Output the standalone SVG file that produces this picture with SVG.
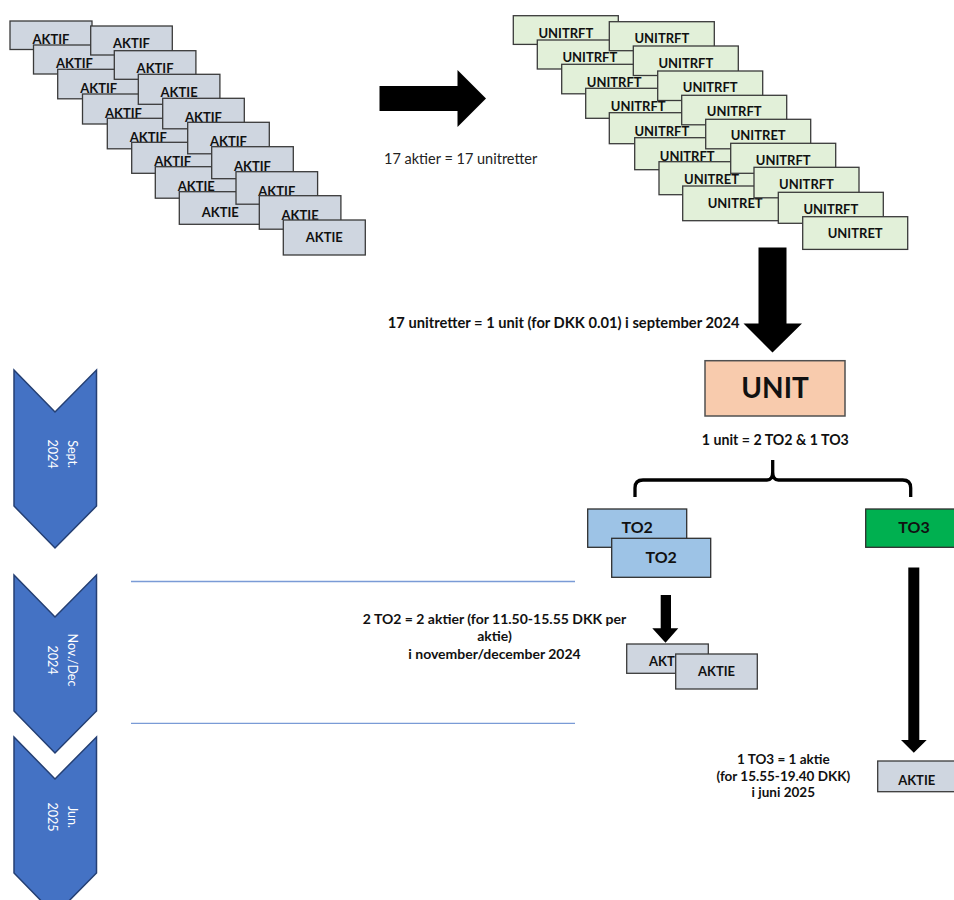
<svg xmlns="http://www.w3.org/2000/svg" width="954" height="900" viewBox="0 0 954 900">
<style>
.ak rect{fill:#CFD6E0;stroke:#3A3A3A;stroke-width:1.3}
.un rect{fill:#E2F0D9;stroke:#3A3A3A;stroke-width:1.3}
.bt{font-family:Lato,"Liberation Sans",sans-serif;font-weight:bold;font-size:13px;fill:#111;text-anchor:middle}
.lbl{font-family:Lato,"Liberation Sans",sans-serif;font-weight:bold;font-size:14px;fill:#111}
.reg{font-family:Lato,"Liberation Sans",sans-serif;font-size:14.5px;fill:#222}
.chev polygon{fill:#4472C4;stroke:#243F73;stroke-width:1.5}
.ct{font-family:Lato,"Liberation Sans",sans-serif;font-size:12.5px;fill:#fff;text-anchor:middle}
.arr{fill:#000}
.tl{stroke:#7A9BD6;stroke-width:1.3}
</style>

<!-- AKTIE stack -->
<g id="aktier" class="ak">
<g><rect x="10" y="21" width="82" height="28.5"/><text class="bt" x="51" y="43.5">AKTIF</text></g>
<g><rect x="33.5" y="45" width="82" height="29"/><text class="bt" x="74.5" y="68">AKTIF</text></g>
<g><rect x="57.7" y="69.3" width="82" height="29.5"/><text class="bt" x="98.7" y="92.5">AKTIF</text></g>
<g><rect x="82.5" y="94" width="82" height="30"/><text class="bt" x="123.5" y="117.5">AKTIF</text></g>
<g><rect x="107.3" y="118.3" width="82" height="30.5"/><text class="bt" x="148.3" y="142">AKTIF</text></g>
<g><rect x="131.7" y="142.3" width="82" height="31"/><text class="bt" x="172.7" y="166.3">AKTIF</text></g>
<g><rect x="155.3" y="166.7" width="82" height="31.5"/><text class="bt" x="196.3" y="191">AKTIE</text></g>
<g><rect x="179.3" y="191.7" width="82" height="32.6"/><text class="bt" x="220.3" y="216.5">AKTIE</text></g>
<g><rect x="90.7" y="26" width="81.6" height="29"/><text class="bt" x="131.5" y="48">AKTIF</text></g>
<g><rect x="114.3" y="50.7" width="81.6" height="28.6"/><text class="bt" x="155.1" y="72.8">AKTIF</text></g>
<g><rect x="138.3" y="74.3" width="81.6" height="30"/><text class="bt" x="179.1" y="97">AKTIE</text></g>
<g><rect x="162.7" y="98.3" width="81.6" height="30.5"/><text class="bt" x="203.5" y="121.5">AKTIF</text></g>
<g><rect x="187.7" y="122.3" width="81.6" height="31.5"/><text class="bt" x="228.5" y="146">AKTIF</text></g>
<g><rect x="211.7" y="146.7" width="81.6" height="32"/><text class="bt" x="252.5" y="170.5">AKTIF</text></g>
<g><rect x="236" y="171.7" width="81.6" height="32.5"/><text class="bt" x="276.8" y="195.5">AKTIF</text></g>
<g><rect x="259.3" y="195.7" width="81.6" height="33.5"/><text class="bt" x="300.1" y="220">AKTIE</text></g>
<g><rect x="283.3" y="220" width="82" height="35"/><text class="bt" x="324.3" y="242">AKTIE</text></g>
</g>

<!-- UNITRET stack -->
<g id="unitretter" class="un">
<g><rect x="513.3" y="15.7" width="105" height="28.7"/><text class="bt" x="565.8" y="38">UNITRFT</text></g>
<g><rect x="537.3" y="40" width="105" height="29"/><text class="bt" x="589.8" y="62.3">UNITRFT</text></g>
<g><rect x="561.7" y="64.3" width="105" height="29.5"/><text class="bt" x="614.2" y="86.8">UNITRFT</text></g>
<g><rect x="585.7" y="88.3" width="105" height="30"/><text class="bt" x="638.2" y="111">UNITRFT</text></g>
<g><rect x="609.3" y="112.7" width="105" height="31"/><text class="bt" x="661.8" y="135.5">UNITRFT</text></g>
<g><rect x="634.7" y="137.7" width="105" height="32"/><text class="bt" x="687.2" y="160.5">UNITRFT</text></g>
<g><rect x="659" y="161.7" width="105" height="33"/><text class="bt" x="711.5" y="184">UNITRET</text></g>
<g><rect x="682.7" y="186" width="105" height="34.7"/><text class="bt" x="735.2" y="208">UNITRET</text></g>
<g><rect x="609.3" y="21.7" width="105" height="29"/><text class="bt" x="661.8" y="43">UNITRFT</text></g>
<g><rect x="633.3" y="46" width="105" height="29.5"/><text class="bt" x="685.8" y="67.5">UNITRFT</text></g>
<g><rect x="657.7" y="71" width="105" height="29.5"/><text class="bt" x="710.2" y="92">UNITRFT</text></g>
<g><rect x="681.7" y="95.3" width="105" height="29.5"/><text class="bt" x="734.2" y="116">UNITRFT</text></g>
<g><rect x="705.7" y="119.3" width="105" height="29.5"/><text class="bt" x="758.2" y="140">UNITRET</text></g>
<g><rect x="730.7" y="143.3" width="105" height="30"/><text class="bt" x="783.2" y="164.5">UNITRFT</text></g>
<g><rect x="754" y="167.3" width="105" height="30.5"/><text class="bt" x="806.5" y="189">UNITRFT</text></g>
<g><rect x="778.3" y="192.3" width="105" height="31"/><text class="bt" x="830.8" y="213.5">UNITRFT</text></g>
<g><rect x="802.7" y="216.7" width="105" height="32.7"/><text class="bt" x="855.2" y="238">UNITRET</text></g>
</g>

<!-- Unit -->
<g id="unit">
<rect x="705" y="360.7" width="140" height="55.3" fill="#F8CBAD" stroke="#505050" stroke-width="1.5"/>
<text x="775" y="398" font-family="Lato, 'Liberation Sans', sans-serif" font-weight="bold" font-size="28" fill="#111" text-anchor="middle">UNIT</text>
</g>

<!-- TO2 -->
<g id="to2">
<rect x="587.7" y="509" width="99" height="38.3" fill="#9DC3E6" stroke="#2F2F2F" stroke-width="1.3"/>
<text x="637.2" y="533.3" class="bt" style="font-size:16px">TO2</text>
<rect x="611.7" y="538.3" width="99" height="39" fill="#9DC3E6" stroke="#2F2F2F" stroke-width="1.3"/>
<text x="661.2" y="563.3" class="bt" style="font-size:16px">TO2</text>
</g>

<!-- TO3 -->
<g id="to3">
<rect x="865.7" y="509" width="96" height="38.3" fill="#00B050" stroke="#2F2F2F" stroke-width="1.3"/>
<text x="914" y="533.3" class="bt" style="font-size:16px">TO3</text>
</g>

<!-- Aktier from TO2 -->
<g id="aktier-to2" class="ak">
<rect x="626.7" y="644" width="81.6" height="29.3"/>
<text class="bt" x="667.5" y="666">AKTIE</text>
<rect x="675.7" y="654" width="81.6" height="35"/>
<text class="bt" x="716.5" y="676">AKTIE</text>
</g>

<!-- Aktie from TO3 -->
<g id="aktie-to3" class="ak">
<rect x="877.7" y="761" width="78" height="30.7"/>
<text class="bt" x="916.7" y="784.5">AKTIE</text>
</g>

<!-- Timeline chevrons -->
<g id="chev-sept" class="chev">
<polygon points="14,370 55,412 96.5,370 96.5,506 55,548 14,506"/>
<text class="ct" transform="translate(55,454) rotate(90)"><tspan x="0" y="-13">Sept.</tspan><tspan x="0" y="7.5">2024</tspan></text>
</g>
<g id="chev-nov" class="chev">
<polygon points="14,575 55,617 96.5,575 96.5,711 55,753 14,711"/>
<text class="ct" transform="translate(55,660) rotate(90)"><tspan x="0" y="-13">Nov./Dec</tspan><tspan x="0" y="7.5">2024</tspan></text>
</g>
<g id="chev-jun" class="chev">
<polygon points="14,737 55,779 96.5,737 96.5,873 55,915 14,873"/>
<text class="ct" transform="translate(55,817) rotate(90)"><tspan x="0" y="-13">Jun.</tspan><tspan x="0" y="7.5">2025</tspan></text>
</g>

<!-- Connectors -->
<g id="connectors">
<polygon class="arr" points="379.5,86 457.5,86 457.5,70 486,98.5 457.5,127 457.5,111 379.5,111"/>
<polygon class="arr" points="758.5,247.5 786.5,247.5 786.5,323.5 802,323.5 772.5,352.5 743.5,323.5 758.5,323.5"/>
<path d="M635,497 L635,488 Q635,480 643,480 L767,480 Q772.7,480 772.7,472 L772.7,460 M772.7,472 Q772.7,480 778.4,480 L902.7,480 Q910.7,480 910.7,488 L910.7,497" fill="none" stroke="#000" stroke-width="3.3"/>
<polygon class="arr" points="660.7,595 671,595 671,628.3 678.3,628.3 665.5,642.7 652.3,628.3 660.7,628.3"/>
<polygon class="arr" points="908.3,567.5 919.3,567.5 919.3,740 926.7,740 913.8,752.7 901,740 908.3,740"/>
<line class="tl" x1="131" y1="581.5" x2="575" y2="581.5"/>
<line class="tl" x1="131" y1="723.3" x2="575" y2="723.3"/>
</g>

<!-- Labels -->
<g id="labels">
<text class="reg" x="384" y="163.5">17 aktier = 17 unitretter</text>
<text class="lbl" x="739.5" y="328" text-anchor="end" style="font-size:14.7px">17 unitretter = 1 unit (for DKK 0.01) i september 2024</text>
<text class="lbl" x="775.3" y="445" text-anchor="middle" style="font-size:14.2px">1 unit = 2 TO2 &amp; 1 TO3</text>
<text class="lbl" text-anchor="middle"><tspan x="494.5" y="623.5">2 TO2 = 2 aktier (for 11.50-15.55 DKK per</tspan><tspan x="494.5" y="641">aktie)</tspan><tspan x="494.5" y="658.5">i november/december 2024</tspan></text>
<text class="lbl" text-anchor="middle" style="font-size:13.5px"><tspan x="783.3" y="764">1 TO3 = 1 aktie</tspan><tspan x="783.3" y="780.5">(for 15.55-19.40 DKK)</tspan><tspan x="783.3" y="797.3">i juni 2025</tspan></text>
</g>
</svg>
